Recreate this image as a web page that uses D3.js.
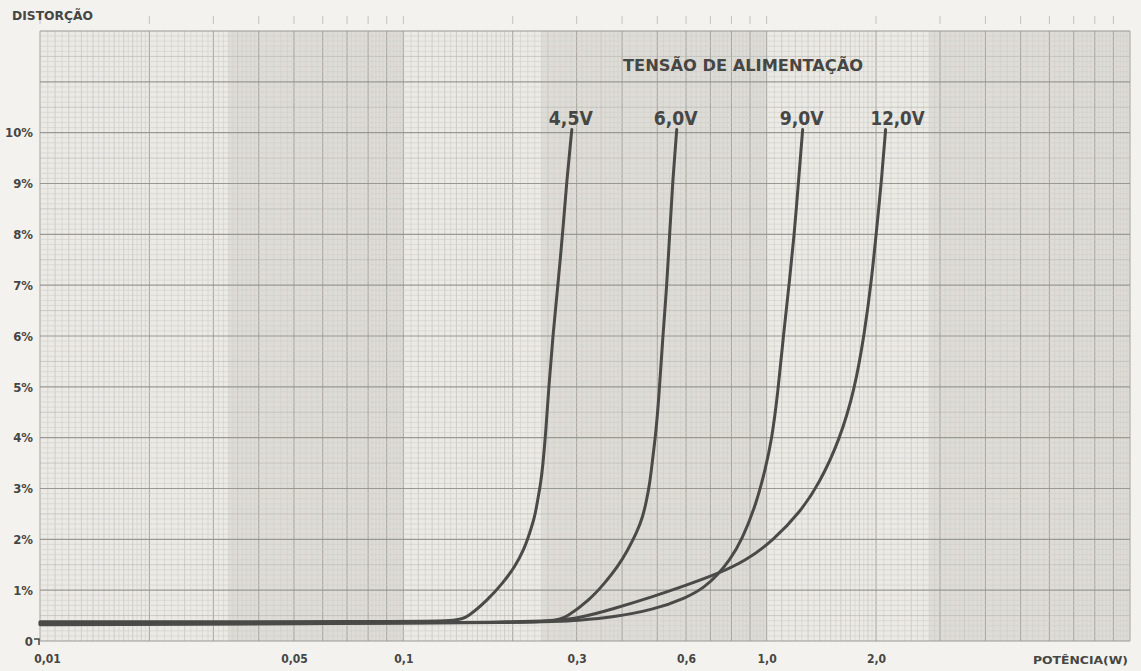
<!DOCTYPE html>
<html lang="pt">
<head>
<meta charset="utf-8">
<title>Distorção x Potência</title>
<script src="https://cdn.jsdelivr.net/npm/d3@7"></script>
<style>
  body { margin: 0; background: #f2f1ed; }
  svg text {
    font-family: "DejaVu Sans Condensed", "DejaVu Sans", sans-serif;
    font-weight: bold;
    fill: #464644;
  }
</style>
</head>
<body>
<div id="svg_container"></div>
<script>
// supply voltages
var categories = ["4,5V", "6,0V", "9,0V", "12,0V"];

// power (W) and distortion (%)
var power45 = [0.01, 0.1, 0.14, 0.1505, 0.1708, 0.1879, 0.2027, 0.2146, 0.2229, 0.2300, 0.2344, 0.2389, 0.2419, 0.2466, 0.2514, 0.2578, 0.2661, 0.2747, 0.2818, 0.2909];
var dist45  = [0.38, 0.38, 0.39, 0.47, 0.81, 1.14, 1.46, 1.79, 2.13, 2.44, 2.78, 3.11, 3.43, 4.09, 5.0, 5.98, 6.97, 8.05, 9.07, 10.06];

var power60 = [0.01, 0.2, 0.2611, 0.2818, 0.3259, 0.3584, 0.3892, 0.4147, 0.4389, 0.4560, 0.4677, 0.4767, 0.4827, 0.4889, 0.4951, 0.5046, 0.5176, 0.5309, 0.5411, 0.5515, 0.5656];
var dist60  = [0.36, 0.36, 0.38, 0.47, 0.81, 1.14, 1.46, 1.79, 2.13, 2.44, 2.78, 3.11, 3.43, 3.76, 4.09, 4.74, 5.98, 6.97, 8.05, 9.07, 10.06];

var power90 = [0.01, 0.2374, 0.3059, 0.3771, 0.4858, 0.6024, 0.6752, 0.7329, 0.7909, 0.8535, 0.9386, 0.9937, 1.0322, 1.0721, 1.1136, 1.157, 1.194, 1.2248, 1.2562];
var dist90  = [0.34, 0.35, 0.41, 0.47, 0.61, 0.85, 1.06, 1.30, 1.59, 1.97, 2.72, 3.41, 3.96, 4.84, 6.06, 7.11, 8.09, 9.08, 10.06];

var power120 = [0.01, 0.2374, 0.3059, 0.3771, 0.4858, 0.6024, 0.7329, 0.881, 1.0387, 1.2326, 1.3989, 1.5884, 1.7461, 1.86, 1.9443, 2.0071, 2.0717, 2.1249];
var dist120  = [0.32, 0.35, 0.45, 0.63, 0.87, 1.10, 1.32, 1.59, 1.97, 2.52, 3.11, 3.96, 4.94, 6.06, 7.11, 8.09, 9.08, 10.06];

// axis ticks
var xTicks = [0.01, 0.05, 0.1, 0.3, 0.6, 1, 2];
var xTickLabels = ["0,01", "0,05", "0,1", "0,3", "0,6", "1,0", "2,0"];
var yTicks = [0, 1, 2, 3, 4, 5, 6, 7, 8, 9, 10];
var yTickLabels = ["0", "1%", "2%", "3%", "4%", "5%", "6%", "7%", "8%", "9%", "10%"];

var width = 1141, height = 671;
var svg = d3.select("#svg_container").append("svg")
    .attr("width", width)
    .attr("height", height);

var x = d3.scaleLog().domain([0.01, 10]).range([40, 1130]);
var y = d3.scaleLinear().domain([0, 12]).range([641, 31]);

// paper
svg.append("rect").attr("width", width).attr("height", height).attr("fill", "#f3f2ee");
svg.append("rect")
    .attr("x", x(0.01)).attr("y", y(12))
    .attr("width", x(10) - x(0.01)).attr("height", y(0) - y(12))
    .attr("fill", "#ebeae5");

// darker scan bands
var bands = [[0.033, 0.1], [0.24, 1], [2.8, 10]];
svg.selectAll(".band").data(bands).enter().append("rect")
    .attr("x", function(d) { return x(d[0]); })
    .attr("y", y(12))
    .attr("width", function(d) { return x(d[1]) - x(d[0]); })
    .attr("height", y(0) - y(12))
    .attr("fill", "#dedcd6");

// log paper verticals
var vlines = [];
[0.01, 0.1, 1].forEach(function(b) {
  var i;
  for (i = 0; i < 20; i++) vlines.push({ v: b * (1 + i * 0.05), k: i % 20 == 0 ? 2 : (i % 2 == 0 ? 1 : 0) });
  for (i = 0; i < 20; i++) vlines.push({ v: b * (2 + i * 0.1), k: i % 10 == 0 ? 2 : (i % 5 == 0 ? 1 : 0) });
  for (i = 0; i < 30; i++) vlines.push({ v: b * (4 + i * 0.2), k: i % 5 == 0 ? 2 : 0 });
});
vlines.push({ v: 10, k: 2 });

svg.selectAll(".vgrid").data(vlines).enter().append("line")
    .attr("x1", function(d) { return x(d.v); })
    .attr("x2", function(d) { return x(d.v); })
    .attr("y1", y(12)).attr("y2", y(0))
    .attr("stroke", function(d) { return d.k == 2 ? "#a6a49f" : (d.k == 1 ? "#bcbab5" : "#d0cec9"); })
    .attr("stroke-width", function(d) { return d.k == 2 ? 1 : 0.6; });

// horizontals every 0.1%
var hlines = d3.range(0, 121).map(function(i) { return { v: i / 10, k: i % 10 == 0 ? 2 : (i % 5 == 0 ? 1 : 0) }; });
svg.selectAll(".hgrid").data(hlines).enter().append("line")
    .attr("x1", x(0.01)).attr("x2", x(10))
    .attr("y1", function(d) { return y(d.v); })
    .attr("y2", function(d) { return y(d.v); })
    .attr("stroke", function(d) { return d.k == 2 ? "#9a9893" : (d.k == 1 ? "#b6b4af" : "#d1cfca"); })
    .attr("stroke-width", function(d) { return d.k == 2 ? 1.2 : 0.6; });

// printed marks on top edge of the paper
var topMarks = [];
[0.01, 0.1, 1].forEach(function(b) { for (var m = 1; m < 10; m++) topMarks.push(b * m); });
svg.selectAll(".topmark").data(topMarks).enter().append("line")
    .attr("x1", function(d) { return x(d); }).attr("x2", function(d) { return x(d); })
    .attr("y1", 16).attr("y2", 24)
    .attr("stroke", "#c4c2bd").attr("stroke-width", 1);

// axes
var yAxis = d3.axisLeft(y).tickValues(yTicks).tickSize(0).tickPadding(4)
    .tickFormat(function(d, i) { return yTickLabels[i]; });
svg.append("g").attr("transform", "translate(37,0)").call(yAxis)
    .call(function(g) { g.select(".domain").remove(); })
    .selectAll("text").attr("font-size", 13).attr("font-family", null);

svg.append("path").attr("d", "M34,639H39V645").attr("fill", "none")
    .attr("stroke", "#464644").attr("stroke-width", 1.5);

var xAxis = d3.axisBottom(x).tickValues(xTicks).tickSize(0).tickPadding(13)
    .tickFormat(function(d, i) { return xTickLabels[i]; });
var gx = svg.append("g").attr("transform", "translate(0," + y(0) + ")").call(xAxis);
gx.select(".domain").remove();
gx.selectAll("text").attr("font-size", 12).attr("dx", function(d, i) { return i == 0 ? 7 : 0; });

svg.selectAll(".tick text").attr("fill", "#464644");

// curves
var series = [
  { name: categories[0], p: power45, d: dist45 },
  { name: categories[1], p: power60, d: dist60 },
  { name: categories[2], p: power90, d: dist90 },
  { name: categories[3], p: power120, d: dist120 }
];

var line = d3.line()
    .x(function(d) { return x(d[0]); })
    .y(function(d) { return y(d[1]); })
    .curve(d3.curveBasis);

svg.selectAll(".curve").data(series).enter().append("path")
    .attr("d", function(s) { return line(d3.zip(s.p, s.d)); })
    .attr("fill", "none")
    .attr("stroke", "#4a4a48")
    .attr("stroke-width", 3)
    .attr("stroke-linecap", "round")
    .attr("stroke-linejoin", "round");

svg.selectAll(".curve-label").data(series).enter().append("text")
    .attr("x", function(s) { return x(s.p[s.p.length - 1]); })
    .attr("dx", function(s, i) { return i == 3 ? 12 : -1; })
    .attr("y", 125)
    .attr("text-anchor", "middle")
    .attr("font-size", 19)
    .attr("textLength", function(s) { return s.name.length > 4 ? 54 : 44; })
    .attr("lengthAdjust", "spacingAndGlyphs")
    .text(function(s) { return s.name; });

// titles
svg.append("text").attr("x", 12).attr("y", 20).attr("font-size", 12)
    .attr("textLength", 81).attr("lengthAdjust", "spacingAndGlyphs")
    .text("DISTORÇÃO");

svg.append("text").attr("x", 623).attr("y", 71).attr("font-size", 16)
    .attr("textLength", 240).attr("lengthAdjust", "spacingAndGlyphs")
    .text("TENSÃO DE ALIMENTAÇÃO");

svg.append("text").attr("x", 1033).attr("y", 664).attr("font-size", 11)
    .attr("textLength", 95).attr("lengthAdjust", "spacingAndGlyphs")
    .text("POTÊNCIA(W)");
</script>
</body>
</html>
